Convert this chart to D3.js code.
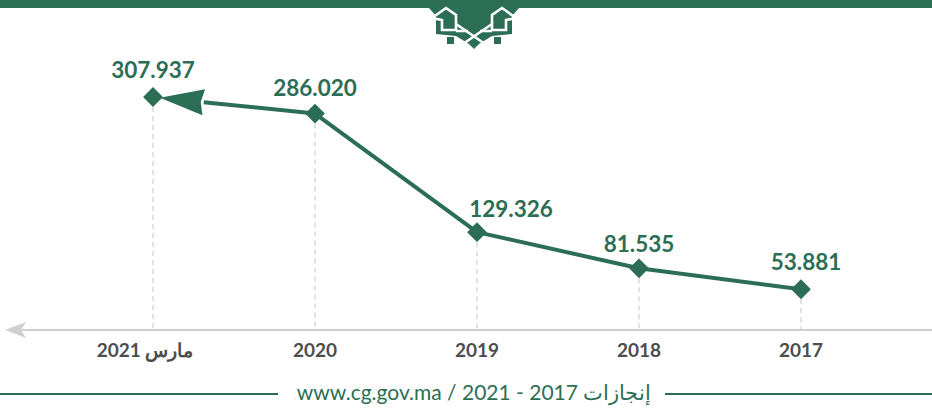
<!DOCTYPE html>
<html>
<head>
<meta charset="utf-8">
<script src="https://cdn.jsdelivr.net/npm/d3@7"></script>
<style>
  body { margin: 0; background: #fff; }
  svg { display: block; }
</style>
</head>
<body>
<script>
// data, right to left as drawn
const categories = ["مارس 2021", "2020", "2019", "2018", "2017"];
const values = [307.937, 286.020, 129.326, 81.535, 53.881];
const valueLabels = ["307.937", "286.020", "129.326", "81.535", "53.881"];
const footerText = "www.cg.gov.ma / 2021 - 2017 إنجازات";

const W = 932, H = 408;
const green = "#2c6e55";
const grey = "#cfcfcf";

const svg = d3.select("body").append("svg")
  .attr("width", W)
  .attr("height", H)
  .attr("viewBox", `0 0 ${W} ${H}`);

const x = d3.scalePoint()
  .domain(categories)
  .range([153, 801]);

const y = d3.scaleLinear()
  .domain([0, 307.937])
  .range([330, 97]);

// top band + ornament
svg.append("rect").attr("x", 0).attr("y", 0).attr("width", W).attr("height", 8).attr("fill", green);

const orn = svg.append("g").attr("transform", "translate(474,0)");
orn.append("path")
  .attr("d", "M-45,8 L45,8 L38,16 L38,34 L18,36 L0,47 L-18,36 L-38,34 L-38,16 Z")
  .attr("fill", green);
// white lattice lines
const lat = orn.append("g").attr("fill", "none").attr("stroke", "#fff").attr("stroke-width", 2.6);
lat.append("path").attr("d", "M-42,18 L-28,8 L-18,15 L-18,30 L-32,30 L-32,20 Z");
lat.append("path").attr("d", "M42,18 L28,8 L18,15 L18,30 L32,30 L32,20 Z");
lat.append("path").attr("d", "M-18,24 L14,46 M18,24 L-14,46");
lat.append("path").attr("d", "M-18,31 L-6,31 M18,31 L6,31");
orn.append("rect").attr("x", -27).attr("y", 37).attr("width", 7).attr("height", 7).attr("fill", green);
orn.append("rect").attr("x", 20).attr("y", 37).attr("width", 7).attr("height", 7).attr("fill", green);
orn.append("path").attr("d", "M0,39 L5,44 L0,49 L-5,44 Z").attr("fill", green);

// baseline axis with arrow to the left
const axisY = y(0);
svg.append("line")
  .attr("x1", 20).attr("x2", W)
  .attr("y1", axisY).attr("y2", axisY)
  .attr("stroke", grey).attr("stroke-width", 2);
svg.append("path")
  .attr("d", `M5,${axisY} L26,${axisY - 8} L21,${axisY} L26,${axisY + 8} Z`)
  .attr("fill", grey);

// dashed drop lines
svg.append("g").selectAll("line")
  .data(categories)
  .join("line")
  .attr("x1", d => x(d)).attr("x2", d => x(d))
  .attr("y1", (d, i) => y(values[i]) + 10)
  .attr("y2", axisY)
  .attr("stroke", grey)
  .attr("stroke-width", 1.2)
  .attr("stroke-dasharray", "5,4");

// category labels
svg.append("g").selectAll("text")
  .data(categories)
  .join("text")
  .attr("x", (d, i) => i === 0 ? x(d) - 8 : x(d))
  .attr("y", 357)
  .attr("text-anchor", "middle")
  .attr("font-family", "Lato, 'Noto Sans', sans-serif")
  .attr("font-weight", "bold")
  .attr("font-size", 19)
  .attr("fill", "#4d4d4d")
  .attr("direction", "rtl")
  .text(d => d);

// line (drawn from 2017 toward 2021 so the arrow points left)
const pts = categories.map((c, i) => [x(c), y(values[i])]).reverse();
const line = d3.line();
const a = pts[pts.length - 2], b = pts[pts.length - 1];
const dx = b[0] - a[0], dy = b[1] - a[1], len = Math.hypot(dx, dy);
const ux = dx / len, uy = dy / len;
const tip = [b[0] - ux * 7, b[1] - uy * 7];
const base = [tip[0] - ux * 44, tip[1] - uy * 44];

svg.append("path")
  .attr("d", line(pts.slice(0, pts.length - 1).concat([base])))
  .attr("fill", "none")
  .attr("stroke", green)
  .attr("stroke-width", 4)
  .attr("stroke-linejoin", "round");

// arrow head
svg.append("path")
  .attr("d", line([
    tip,
    [base[0] - uy * 13, base[1] + ux * 13],
    [base[0] + ux * 3, base[1] + uy * 3],
    [base[0] + uy * 13, base[1] - ux * 13]
  ]) + "Z")
  .attr("fill", green);

// diamonds
svg.append("g").selectAll("path")
  .data(categories)
  .join("path")
  .attr("transform", (d, i) => `translate(${x(d)},${y(values[i])}) rotate(45)`)
  .attr("d", "M-7,-7 H7 V7 H-7 Z")
  .attr("fill", green);

// value labels (2019 sits right of its point)
const labelDx = [0, 0, 34, 0, 5];
const labelDy = [-19, -18, -15, -16, -19];
svg.append("g").selectAll("text")
  .data(categories)
  .join("text")
  .attr("x", (d, i) => x(d) + labelDx[i])
  .attr("y", (d, i) => y(values[i]) + labelDy[i])
  .attr("text-anchor", "middle")
  .attr("font-family", "Lato, 'Noto Sans', sans-serif")
  .attr("font-weight", "bold")
  .attr("font-size", 22.5)
  .attr("fill", green)
  .text((d, i) => valueLabels[i]);

// footer
svg.append("line").attr("x1", 0).attr("x2", 278).attr("y1", 394).attr("y2", 394)
  .attr("stroke", green).attr("stroke-width", 2);
svg.append("line").attr("x1", 665).attr("x2", W).attr("y1", 394).attr("y2", 394)
  .attr("stroke", green).attr("stroke-width", 2);
svg.append("text")
  .attr("x", 474)
  .attr("y", 400)
  .attr("text-anchor", "middle")
  .attr("font-family", "Lato, 'Noto Sans', sans-serif")
  .attr("font-size", 21)
  .attr("fill", green)
  .attr("direction", "ltr")
  .text(footerText);
</script>
</body>
</html>
